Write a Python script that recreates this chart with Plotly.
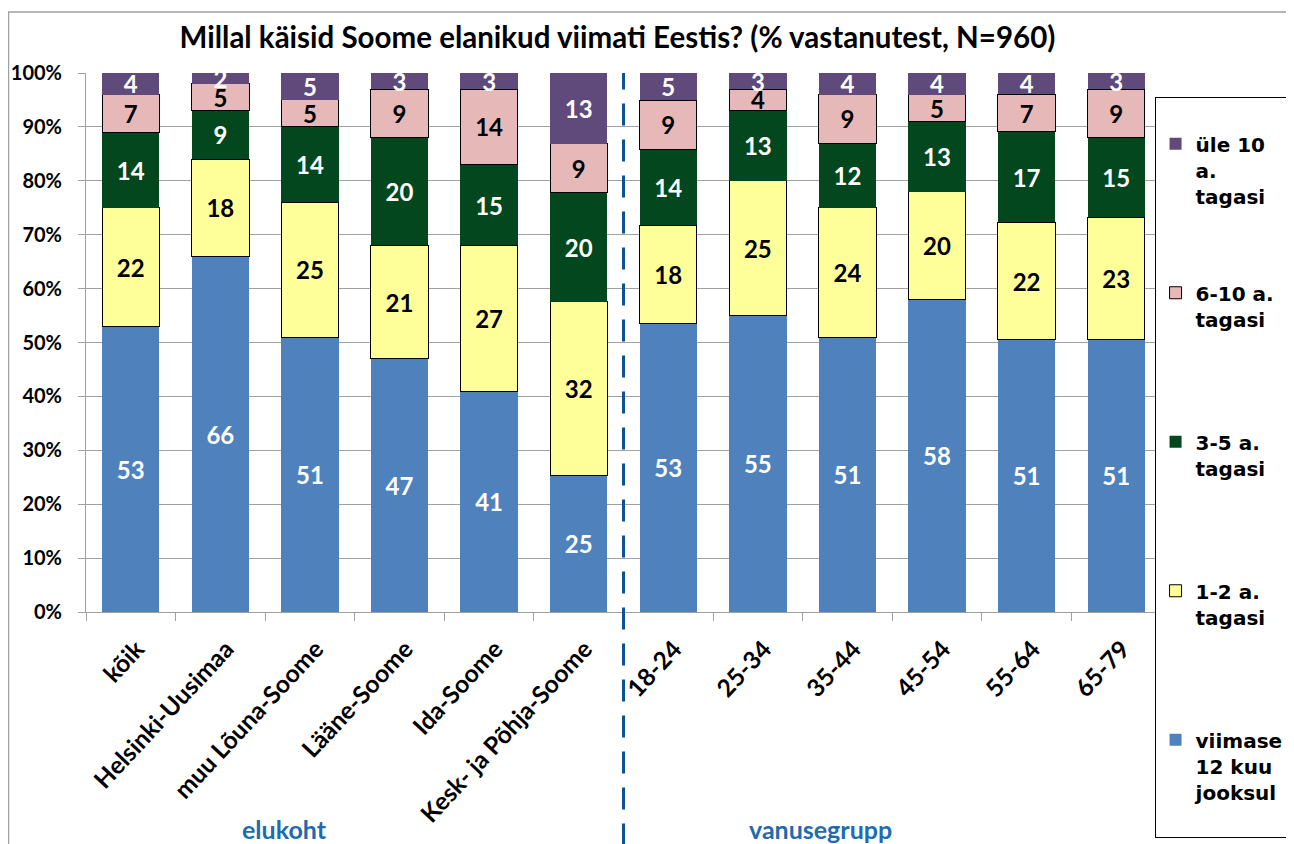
import plotly.graph_objects as go

# kategooriad (elukoht + vanusegrupp)
categories = ["kõik", "Helsinki-Uusimaa", "muu Lõuna-Soome", "Lääne-Soome", "Ida-Soome",
              "Kesk- ja Põhja-Soome", "18-24", "25-34", "35-44", "45-54", "55-64", "65-79"]

viimase_12_kuu = [53, 66, 51, 47, 41, 25, 53, 55, 51, 58, 51, 51]
aastat_1_2 = [22, 18, 25, 21, 27, 32, 18, 25, 24, 20, 22, 23]
aastat_3_5 = [14, 9, 14, 20, 15, 20, 14, 13, 12, 13, 17, 15]
aastat_6_10 = [7, 5, 5, 9, 14, 9, 9, 4, 9, 5, 7, 9]
ule_10 = [4, 2, 5, 3, 3, 13, 5, 3, 4, 4, 4, 3]

# legendi nimed: kõik kolmerealised, et vahed oleksid ühtlased
series = [
    ("viimase<br>12 kuu<br>jooksul<br>&nbsp;", viimase_12_kuu, "#4F81BD", "white", 0),
    ("1-2 a.<br>tagasi<br>&nbsp;", aastat_1_2, "#FFFF99", "black", 1),
    ("3-5 a.<br>tagasi<br>&nbsp;", aastat_3_5, "#03471F", "white", 0),
    ("6-10 a.<br>tagasi<br>&nbsp;", aastat_6_10, "#E6B9B8", "black", 1),
    ("üle 10<br>a.<br>tagasi", ule_10, "#5F4A7B", "white", 0),
]

FONT = "Lato"
LEG_FONT = "DejaVu Sans"

fig = go.Figure()
for i, (name, vals, color, tcolor, lw) in enumerate(series):
    fig.add_trace(go.Bar(
        x=categories, y=vals, name=name,
        marker=dict(color=color, line=dict(color="black", width=lw)),
        text=vals, texttemplate="%{text}", textposition="inside",
        insidetextanchor="middle", textangle=0,
        textfont=dict(color=tcolor, size=24, family=FONT, weight="bold"),
        legendgroup=str(i), legendrank=len(series) - i,
    ))

# eraldusjoon elukoha ja vanusegrupi vahel
fig.add_shape(type="line", xref="x", yref="paper", x0=5.5, x1=5.5, y0=-0.5, y1=1.0,
              line=dict(color="#0B5394", width=3, dash="22px,14px"))

# diagrammi raam
fig.add_shape(type="rect", xref="paper", yref="paper", x0=-0.0721, x1=1.12, y0=-0.6, y1=1.113,
              line=dict(color="#A0A0A0", width=1.5), layer="below")

fig.add_annotation(text="<b>elukoht</b>", xref="paper", yref="paper", x=0.185, y=-0.403,
                   xanchor="center", yanchor="middle", showarrow=False,
                   font=dict(color="#1F6BB0", size=25, family=FONT))
fig.add_annotation(text="<b>vanusegrupp</b>", xref="paper", yref="paper", x=0.683, y=-0.403,
                   xanchor="center", yanchor="middle", showarrow=False,
                   font=dict(color="#1F6BB0", size=25, family=FONT))

fig.update_layout(
    width=1294, height=844,
    barmode="stack", barnorm="percent", bargap=0.36,
    paper_bgcolor="white", plot_bgcolor="white",
    font=dict(family=FONT, color="black"),
    title=dict(text="<b>Millal käisid Soome elanikud viimati Eestis? (% vastanutest, N=960)</b>",
               x=0.471, xanchor="center", y=0.9645, yanchor="middle",
               font=dict(size=29.5, family=FONT, color="black")),
    margin=dict(l=78, r=141, t=65, b=240),
    uniformtext=dict(minsize=24, mode="show"),
    legend=dict(x=0.994, y=0.955, xanchor="left", yanchor="top",
                traceorder="grouped", tracegroupgap=68, maxheight=800,
                title=dict(text="&nbsp;", font=dict(size=20)),
                bordercolor="black", borderwidth=1,
                font=dict(size=20, family=LEG_FONT, color="black", weight="bold"),
                itemwidth=30, valign="top"),
    xaxis=dict(tickangle=-47, tickfont=dict(size=24.5, family=FONT, weight="bold"),
               showline=True, linecolor="#A0A0A0", ticks="outside", tickcolor="#A0A0A0",
               ticklen=8, tickson="boundaries", ticklabelstandoff=12, ticklabelshift=6,
               automargin=False),
    yaxis=dict(range=[0, 100], dtick=10, ticksuffix="%", showgrid=True, gridcolor="#A0A0A0",
               showline=True, linecolor="#A0A0A0", ticks="outside", tickcolor="#A0A0A0",
               ticklen=7, ticklabelstandoff=12,
               tickfont=dict(size=20, family=FONT, weight="bold"), automargin=False),
)

fig.write_html("out.html")
